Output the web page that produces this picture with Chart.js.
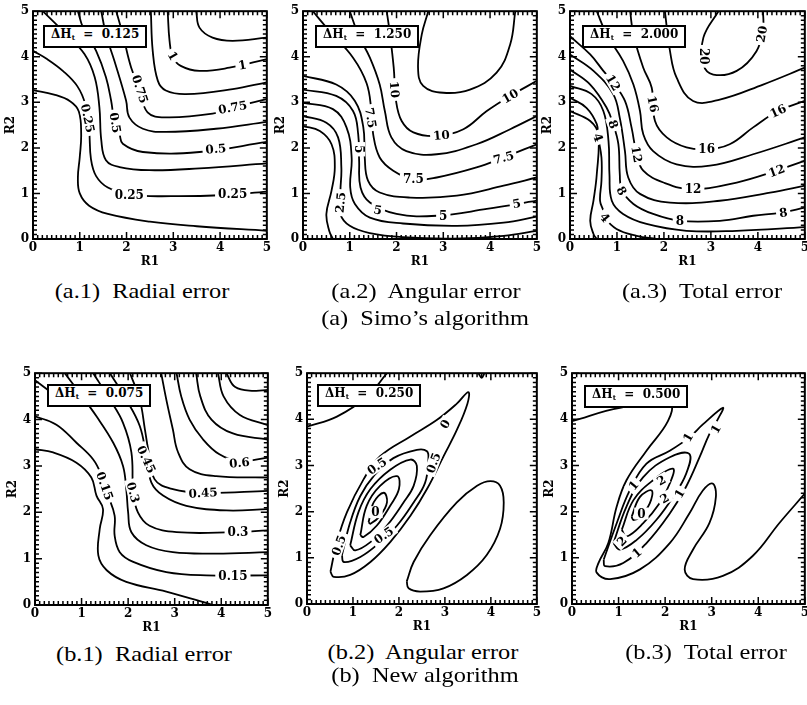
<!DOCTYPE html>
<html>
<head>
<meta charset="utf-8">
<script src="https://cdn.jsdelivr.net/npm/chart.js@4.4.0/dist/chart.umd.min.js"></script>
<style>
  body { margin: 0; background: #fff; width: 807px; height: 705px; position: relative; overflow: hidden; }
  canvas { position: absolute; }
  .cap { position: absolute; font-family: "Liberation Serif", serif; font-size: 21px; line-height: 22px; text-align: center; color: #000; white-space: pre; transform: scaleX(1.16); transform-origin: center; }
  .dh { position: absolute; border: 2px solid #000; background: #fff; font-family: "DejaVu Serif", serif; font-weight: bold; font-size: 12px; line-height: 14px; padding: 0px 6px 1px 6px; white-space: pre; }
  .dh sub { font-size: 7px; vertical-align: -2px; }
</style>
</head>
<body>
<canvas id="a1" width="273" height="271" style="left:0px;top:0px"></canvas>
<canvas id="a2" width="273" height="271" style="left:270px;top:0px"></canvas>
<canvas id="a3" width="274" height="271" style="left:537px;top:0px"></canvas>
<canvas id="b1" width="272" height="275" style="left:2px;top:362px"></canvas>
<canvas id="b2" width="269" height="274" style="left:274px;top:362px"></canvas>
<canvas id="b3" width="272" height="274" style="left:539px;top:362px"></canvas>

<div class="dh" style="left:43px;top:25px">ΔH<sub>t</sub>  =  0.125</div>
<div class="dh" style="left:315px;top:25px">ΔH<sub>t</sub>  =  1.250</div>
<div class="dh" style="left:582px;top:25px">ΔH<sub>t</sub>  =  2.000</div>
<div class="dh" style="left:47px;top:384px">ΔH<sub>t</sub>  =  0.075</div>
<div class="dh" style="left:317px;top:384px">ΔH<sub>t</sub>  =  0.250</div>
<div class="dh" style="left:584px;top:385px">ΔH<sub>t</sub>  =  0.500</div>

<div class="cap" style="left:42px;width:200px;top:280px">(a.1)  Radial error</div>
<div class="cap" style="left:326px;width:200px;top:280px">(a.2)  Angular error</div>
<div class="cap" style="left:602px;width:200px;top:280px">(a.3)  Total error</div>
<div class="cap" style="left:300px;width:250px;top:307px">(a)  Simo’s algorithm</div>
<div class="cap" style="left:44px;width:200px;top:643px">(b.1)  Radial error</div>
<div class="cap" style="left:323px;width:200px;top:641px">(b.2)  Angular error</div>
<div class="cap" style="left:606px;width:200px;top:641px">(b.3)  Total error</div>
<div class="cap" style="left:300px;width:250px;top:664px">(b)  New algorithm</div>

<script>
// axis range and tick labels shared by all six panels
const rTicks = [0, 1, 2, 3, 4, 5];
const minorStep = 0.1;

// (a.1) Simo, radial error, levels 0.125 .. 1.125
const a1Lines = [
  [[0,3.27],[0.45,3.17],[0.8,3.02],[0.98,2.8],[1.03,2.3],[1.0,1.8],[0.96,1.35],[1.0,1.0],[1.2,0.73],[1.6,0.55],[2.5,0.38],[3.5,0.28],[5,0.18]],
  [[0,4.13],[0.3,3.95],[0.65,3.68],[0.95,3.35],[1.12,2.95],[1.2,2.4],[1.24,1.75],[1.35,1.38],[1.6,1.13],[2.1,0.97],[3,0.94],[4,0.96],[5,1.04]],
  [[0.21,5],[0.71,4.49],[1.10,4.06],[1.32,3.55],[1.42,2.89],[1.46,2.17],[1.56,1.73],[1.85,1.58],[2.49,1.51],[3.56,1.55],[5,1.66]],
  [[0.96,5],[1.07,4.64],[1.35,4.13],[1.56,3.55],[1.67,3.04],[1.74,2.6],[1.85,2.3],[1.92,2.09],[2.35,1.91],[3.56,1.91],[5,2.13]],
  [[1.46,5],[1.56,4.49],[1.74,3.91],[1.99,3.04],[2.06,2.67],[2.35,2.42],[2.84,2.35],[3.91,2.42],[5,2.57]],
  [[1.78,5],[1.92,4.49],[2.10,3.76],[2.28,3.3],[2.45,2.78],[2.84,2.67],[3.84,2.75],[4.27,2.89],[5,3.07]],
  [[2.52,5],[2.56,4.13],[2.67,3.47],[2.84,3.26],[3.27,3.18],[4.27,3.29],[5,3.44]],
  [[2.88,5],[2.92,4.35],[2.99,4.0],[3.16,3.80],[3.56,3.69],[4.2,3.76],[5,3.95]],
  [[3.49,5],[3.56,4.64],[3.84,4.42],[4.27,4.35],[5,4.42]]
];
const a1Labels = [
  [1.17,2.65,'0.25',78],[1.76,2.55,'0.5',80],[2.29,3.29,'0.75',72],[2.99,4.02,'1',60],
  [2.06,0.97,'0.25',0],[4.27,0.99,'0.25',0],[3.91,1.98,'0.5',-5],[4.27,2.89,'0.75',-10],[4.48,3.82,'1',-10]
];

// (a.2) Simo, angular error, levels 1.25 .. 11.25
const a2Lines = [
  [[0,2.48],[0.36,2.37],[0.61,2.08],[0.68,1.57],[0.61,1.06],[0.5,0.55],[0.56,0.18],[0.64,0]],
  [[0,2.70],[0.5,2.55],[0.75,2.23],[0.82,1.57],[0.8,1.06],[0.8,0.55],[1.0,0.29],[1.43,0.13],[2.14,0.04],[3.21,0.01],[4.29,0.07],[5,0.18]],
  [[0,2.99],[0.64,2.85],[0.93,2.45],[1.04,1.79],[1.01,1.13],[1.11,0.77],[1.43,0.47],[2.14,0.34],[3.29,0.29],[4.29,0.36],[5,0.49]],
  [[0,3.28],[0.71,3.14],[1.07,2.81],[1.18,2.30],[1.2,1.72],[1.23,1.13],[1.43,0.80],[2.0,0.55],[2.86,0.51],[3.93,0.66],[5,0.84]],
  [[0,3.58],[0.71,3.39],[1.11,3.03],[1.29,2.45],[1.32,1.79],[1.39,1.28],[1.64,1.02],[2.29,0.91],[3.29,0.95],[4.29,1.17],[5,1.35]],
  [[0.21,5],[0.57,4.56],[1.07,3.98],[1.36,3.42],[1.46,2.84],[1.5,2.3],[1.64,1.79],[1.93,1.5],[2.36,1.31],[2.86,1.35],[3.71,1.57],[4.29,1.79],[5,2.08]],
  [[1.0,5],[1.18,4.49],[1.43,3.98],[1.64,3.39],[1.75,2.81],[1.89,2.23],[2.21,1.93],[2.86,1.86],[3.71,2.08],[4.43,2.41],[5,2.70]],
  [[1.79,5],[1.86,4.49],[1.94,3.76],[1.99,3.03],[2.11,2.59],[2.36,2.34],[2.86,2.26],[3.43,2.41],[3.93,2.81],[4.43,3.14],[5,3.47]],
  [[2.68,5],[2.54,4.49],[2.46,3.76],[2.57,3.36],[3.0,3.21],[3.57,3.28],[4.14,3.65],[4.43,4.27],[4.54,5]]
];
const a2Labels = [
  [1.96,3.28,'10',85],[2.96,2.28,'10',-5],[4.43,3.14,'10',-30],
  [1.45,2.66,'7.5',80],[2.36,1.31,'7.5',0],[4.29,1.79,'7.5',-15],
  [1.2,1.97,'5',90],[1.6,0.64,'5',10],[3.0,0.51,'5',0],[4.57,0.78,'5',-10],
  [0.8,0.8,'2.5',-85]
];

// (a.3) Simo, total error, levels 2 .. 20
const a3Lines = [
  [[0,2.81],[0.43,2.59],[0.60,2.30],[0.57,1.42],[0.50,0.84],[0.43,0.40],[0.50,0.11],[0.57,0]],
  [[0,3.10],[0.35,2.88],[0.57,2.52],[0.60,2.23],[0.67,1.79],[0.67,1.28],[0.64,0.84],[0.71,0.62],[0.74,0.47],[0.99,0.22],[1.42,0.07],[1.84,0]],
  [[0,3.36],[0.46,3.18],[0.71,2.81],[0.82,2.15],[0.84,1.42],[0.89,0.84],[1.13,0.55],[1.63,0.33],[2.48,0.18],[3.55,0.18],[5,0.26]],
  [[0,3.72],[0.43,3.39],[0.78,2.88],[0.92,2.52],[1.03,2.08],[1.06,1.42],[1.10,1.09],[1.35,0.77],[1.77,0.55],[2.34,0.40],[3.19,0.40],[3.90,0.51],[4.5,0.58],[5,0.69]],
  [[0,4.05],[0.50,3.69],[0.92,3.18],[1.06,2.66],[1.17,1.93],[1.24,1.35],[1.49,0.99],[2.13,0.80],[3.19,0.84],[4.26,1.02],[5,1.17]],
  [[0,4.45],[0.43,4.05],[0.71,3.69],[0.92,3.43],[1.17,3.03],[1.31,2.45],[1.42,1.86],[1.56,1.50],[1.99,1.24],[2.62,1.09],[3.55,1.24],[4.40,1.50],[5,1.72]],
  [[0.57,5],[0.78,4.49],[1.13,3.91],[1.35,3.39],[1.49,2.81],[1.56,2.30],[1.77,1.93],[2.27,1.64],[2.98,1.61],[3.90,1.86],[5,2.23]],
  [[1.28,5],[1.35,4.49],[1.56,3.76],[1.74,3.32],[1.81,2.59],[2.06,2.23],[2.48,2.01],[2.91,1.97],[3.40,2.08],[3.90,2.45],[4.43,2.81],[5,3.03]],
  [[2.02,5],[2.13,4.12],[2.27,3.54],[2.62,3.03],[3.19,3.06],[4.11,3.39],[5,3.76]],
  [[3.16,5],[2.84,4.42],[2.84,3.83],[3.05,3.61],[3.55,3.69],[3.97,4.12],[4.11,4.64],[4.11,5]]
];
const a3Labels = [
  [2.85,4.01,'20',90],[4.08,4.5,'20',-80],
  [1.77,2.96,'16',78],[2.91,1.97,'16',0],[4.43,2.81,'16',-25],
  [0.92,3.43,'12',60],[1.42,1.86,'12',80],[2.62,1.09,'12',0],[4.40,1.50,'12',-20],
  [0.92,2.52,'8',70],[1.1,1.06,'8',60],[2.34,0.40,'8',0],[4.54,0.58,'8',-8],
  [0.6,2.23,'4',70],[0.74,0.47,'4',50]
];

// (b.1) new algorithm, radial error, levels 0.075 ..
const b1Lines = [
  [[0,4.85],[0.3,4.62]],
  [[0,3.36],[0.39,3.29],[0.89,3.07],[1.21,2.75],[1.32,2.36],[1.46,2.07],[1.39,1.64],[1.36,1.07],[1.54,0.75],[1.96,0.5],[2.82,0.29],[3.82,0]],
  [[0,4.07],[0.46,3.89],[0.89,3.5],[1.25,3.14],[1.43,2.79],[1.57,2.36],[1.71,1.93],[1.71,1.5],[1.82,1.14],[2.11,0.93],[2.82,0.71],[3.68,0.64],[5,0.64]],
  [[0.64,5],[0.96,4.57],[1.32,4.07],[1.68,3.5],[1.89,3.0],[1.96,2.5],[2.0,2.0],[2.07,1.57],[2.39,1.29],[2.96,1.14],[3.89,1.11],[5,1.14]],
  [[1.25,5],[1.61,4.43],[1.89,3.93],[2.07,3.29],[2.11,2.43],[2.21,2.0],[2.46,1.71],[3.04,1.57],[4.25,1.57],[5,1.61]],
  [[1.61,5],[1.96,4.43],[2.25,3.86],[2.39,3.21],[2.5,2.64],[2.75,2.36],[3.25,2.14],[4.11,2.04],[5,2.07]],
  [[2.04,5],[2.25,4.43],[2.36,3.79],[2.43,3.36],[2.57,2.71],[2.96,2.5],[3.61,2.42],[5,2.46]],
  [[2.71,5],[2.82,4.43],[2.96,3.79],[3.07,3.3],[3.32,2.93],[3.89,2.78],[5,2.75]],
  [[3.04,5],[3.14,4.5],[3.32,4.0],[3.61,3.57],[3.96,3.25],[4.39,3.1],[5,3.18]],
  [[3.46,5],[3.55,4.5],[3.79,4.0],[4.25,3.7],[5,3.57]],
  [[3.93,5],[4.05,4.5],[4.4,4.1],[5,3.88]],
  [[4.11,5],[4.3,4.7],[4.7,4.62],[5,4.64]]
];
const b1Labels = [
  [1.5,2.57,'0.15',70],[2.11,2.43,'0.3',75],[2.39,3.14,'0.45',65],
  [4.25,0.62,'0.15',0],[4.36,1.57,'0.3',0],[3.61,2.42,'0.45',-3],[4.39,3.07,'0.6',-5]
];

// (b.2) new algorithm, angular error
const b2Lines = [
  [[0,3.84],[0.65,4.06],[1.3,4.49],[1.74,5]],
  [[3.73,5],[3.8,4.9],[3.86,5]],
  [[0.51,0.70],[0.65,1.34],[0.87,1.99],[1.23,2.70],[1.59,3.20],[2.25,3.63],[2.83,3.99],[3.26,4.34],[3.51,4.59],[3.49,4.34],[3.26,3.77],[2.97,3.20],[2.61,2.49],[2.25,1.91],[1.81,1.34],[1.38,0.91],[0.94,0.63],[0.58,0.59],[0.51,0.70]],
  [[2.17,0.49],[2.32,0.91],[2.68,1.49],[3.26,2.2],[3.7,2.56],[3.99,2.66],[4.2,2.56],[4.28,2.2],[4.2,1.63],[3.91,1.06],[3.48,0.63],[2.97,0.34],[2.46,0.27],[2.21,0.34],[2.17,0.49]],
  [[0.76,1.06],[0.94,1.77],[1.16,2.34],[1.45,2.77],[1.88,3.16],[2.39,3.34],[2.61,3.31],[2.64,3.13],[2.57,2.63],[2.32,2.2],[1.96,1.7],[1.59,1.34],[1.16,1.02],[0.8,0.91],[0.76,1.06]],
  [[0.94,1.27],[1.12,1.99],[1.38,2.49],[1.81,2.91],[2.25,3.13],[2.39,2.99],[2.32,2.56],[2.1,2.2],[1.74,1.7],[1.38,1.34],[1.05,1.16],[0.94,1.27]],
  [[1.16,1.49],[1.3,2.13],[1.59,2.56],[1.96,2.77],[2.0,2.49],[1.81,2.13],[1.52,1.7],[1.23,1.45],[1.16,1.49]],
  [[1.34,1.77],[1.45,2.2],[1.67,2.41],[1.74,2.2],[1.59,1.91],[1.38,1.74],[1.34,1.77]]
];
const b2Labels = [
  [3.0,3.9,'0',-60],[1.52,2.99,'0.5',-35],[2.75,3.06,'0.5',-70],[1.67,1.49,'0.5',-35],[0.69,1.27,'0.5',-70],[1.49,1.99,'0',0]
];

// (b.3) new algorithm, total error
const b3Lines = [
  [[0,3.96],[1.03,4.25],[2.1,4.32],[2.06,3.96],[1.6,3.32],[1.17,2.68],[0.96,2.11],[0.78,1.32],[0.57,0.89],[0.53,0.68],[0.82,0.54],[1.46,0.75],[2.1,1.32],[2.52,1.96],[2.81,2.46],[3.02,2.61],[3.09,2.32],[2.95,1.75],[2.6,1.18],[2.42,0.75],[2.6,0.54],[3.24,0.61],[3.88,1.04],[4.45,1.75],[5,2.39]],
  [[0.68,0.96],[0.96,1.75],[1.24,2.46],[1.6,3.04],[2.1,3.32],[2.52,3.61],[2.81,3.89],[3.24,4.25],[3.13,4.0],[2.95,3.68],[2.74,3.18],[2.45,2.54],[2.1,1.96],[1.6,1.32],[1.1,0.89],[0.71,0.82],[0.68,0.96]],
  [[0.89,1.32],[1.17,2.11],[1.53,2.75],[2.1,3.18],[2.52,3.25],[2.45,2.82],[2.17,2.32],[1.81,1.82],[1.39,1.39],[1.03,1.18],[0.89,1.32]],
  [[1.07,1.61],[1.32,2.25],[1.74,2.68],[2.17,2.93],[2.1,2.61],[1.88,2.18],[1.53,1.75],[1.17,1.46],[1.07,1.61]],
  [[1.28,1.89],[1.46,2.32],[1.71,2.46],[1.67,2.18],[1.46,1.89],[1.32,1.82],[1.28,1.89]]
];
const b3Labels = [
  [2.49,3.61,'1',-60],[3.09,3.79,'1',-60],[1.32,2.57,'1',-50],[2.31,2.39,'1',-60],[1.39,1.11,'1',-40],
  [1.92,2.68,'2',-30],[1.99,2.29,'2',-30],[1.07,1.36,'2',-45],[1.49,1.96,'0',0]
];

const tickFont = { family: 'DejaVu Serif', weight: 'bold', size: 12 };

// frame, inward minor ticks and contour labels
const contourFrame = {
  id: 'contourFrame',
  afterDatasetsDraw(chart, args, opts) {
    const ctx = chart.ctx, a = chart.chartArea;
    const x = chart.scales.x, y = chart.scales.y;
    ctx.save();
    ctx.font = 'bold 12px "DejaVu Serif"';
    ctx.textAlign = 'center';
    ctx.textBaseline = 'middle';
    for (const l of opts.labels) {
      ctx.save();
      ctx.translate(x.getPixelForValue(l[0]), y.getPixelForValue(l[1]));
      ctx.rotate(l[3] * Math.PI / 180);
      const w = ctx.measureText(l[2]).width;
      ctx.fillStyle = '#fff';
      ctx.fillRect(-w / 2 - 3, -6, w + 6, 12);
      ctx.fillStyle = '#000';
      ctx.fillText(l[2], 0, 1);
      ctx.restore();
    }
    ctx.strokeStyle = '#000';
    ctx.lineWidth = 2;
    ctx.strokeRect(a.left, a.top, a.right - a.left, a.bottom - a.top);
    ctx.lineWidth = 1.5;
    ctx.beginPath();
    const n = Math.round((rTicks[rTicks.length - 1] - rTicks[0]) / minorStep);
    for (let i = 0; i <= n; i++) {
      const v = rTicks[0] + i * minorStep;
      const len = i % 10 === 0 ? 7 : 4;
      const px = x.getPixelForValue(v), py = y.getPixelForValue(v);
      ctx.moveTo(px, a.bottom); ctx.lineTo(px, a.bottom - len);
      ctx.moveTo(px, a.top); ctx.lineTo(px, a.top + len);
      ctx.moveTo(a.left, py); ctx.lineTo(a.left + len, py);
      ctx.moveTo(a.right, py); ctx.lineTo(a.right - len, py);
    }
    ctx.stroke();
    ctx.restore();
  }
};

function contourChart(id, lines, labels) {
  new Chart(document.getElementById(id), {
    type: 'scatter',
    data: {
      datasets: lines.map(line => ({
        data: line.map(p => ({ x: p[0], y: p[1] })),
        showLine: true,
        borderColor: '#000',
        borderWidth: 1.8,
        pointRadius: 0,
        tension: 0.4
      }))
    },
    options: {
      responsive: false,
      animation: false,
      events: [],
      layout: { padding: { top: 10, right: 6, left: 0, bottom: 0 } },
      plugins: { legend: { display: false }, tooltip: { enabled: false }, contourFrame: { labels: labels } },
      scales: {
        x: {
          type: 'linear', min: rTicks[0], max: rTicks[rTicks.length - 1],
          ticks: { stepSize: 1, font: tickFont, color: '#000', padding: 2, maxRotation: 0 },
          grid: { display: false, drawTicks: false }, border: { display: false },
          title: { display: true, text: 'R1', font: tickFont, color: '#000', padding: { top: 0, bottom: 2 } },
          afterFit(s) { s.height = 32; }
        },
        y: {
          type: 'linear', min: rTicks[0], max: rTicks[rTicks.length - 1],
          ticks: { stepSize: 1, font: tickFont, color: '#000', padding: 4 },
          grid: { display: false, drawTicks: false }, border: { display: false },
          title: { display: true, text: 'R2', font: tickFont, color: '#000', padding: { top: 4, bottom: 0 } },
          afterFit(s) { s.width = 33; }
        }
      }
    },
    plugins: [contourFrame]
  });
}

contourChart('a1', a1Lines, a1Labels);
contourChart('a2', a2Lines, a2Labels);
contourChart('a3', a3Lines, a3Labels);
contourChart('b1', b1Lines, b1Labels);
contourChart('b2', b2Lines, b2Labels);
contourChart('b3', b3Lines, b3Labels);
</script>
</body>
</html>
